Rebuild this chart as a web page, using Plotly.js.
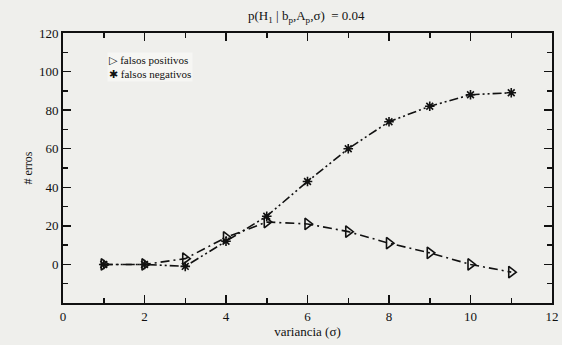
<!DOCTYPE html>
<html><head><meta charset="utf-8">
<script src="https://cdn.plot.ly/plotly-3.0.1.min.js"></script>
<style>html,body{margin:0;padding:0;background:#efefec;}</style>
</head><body>
<div id="chart" style="width:562px;height:345px;"></div>
<script>
const varianciaX = [1, 2, 3, 4, 5, 6, 7, 8, 9, 10, 11];
const falsosPositivos = [0, 0, 3, 14, 22, 21, 17, 11, 6, 0, -4];
const falsosNegativos = [0, 0, -1, 12, 25, 43, 60, 74, 82, 88, 89];
const nomePositivos = 'falsos positivos';
const nomeNegativos = 'falsos negativos';
const xTicks = [0, 2, 4, 6, 8, 10, 12];
const yTicks = [0, 20, 40, 60, 80, 100, 120];

const fam = '"Liberation Serif", "DejaVu Serif", serif';
const font = {family: fam, color: '#111', size: 13};

const traces = [
  {x: varianciaX, y: falsosPositivos, mode: 'lines+markers', name: nomePositivos,
   line: {color: '#111', width: 1.6, dash: '9px,4px,2px,4px'},
   marker: {symbol: 'triangle-right-open', size: 10, color: '#111', line: {width: 1.6}}},
  {x: varianciaX, y: falsosNegativos, mode: 'lines+markers', name: nomeNegativos,
   line: {color: '#111', width: 1.6, dash: '9px,3px,2px,3px,2px,3px'},
   marker: {symbol: 'asterisk-open', size: 8, color: '#111', line: {width: 1.6, color: '#111'}}}
];

const axisCommon = {
  showgrid: false, zeroline: false, showline: true, linecolor: '#111', linewidth: 2,
  mirror: 'allticks', ticks: 'inside', ticklen: 8, tickwidth: 1.5, tickcolor: '#111',
  tickfont: font
};

const layout = {
  width: 562, height: 345,
  paper_bgcolor: '#efefec', plot_bgcolor: '#efefec',
  margin: {l: 63, r: 10, t: 33, b: 42},
  font: font,
  showlegend: false,
  title: {text: 'p(H<sub>1</sub> | b<sub>p</sub>,A<sub>p</sub>,σ)  = 0.04', x: 0.545, xanchor: 'center', y: 0.955, yanchor: 'middle', font: {family: fam, size: 13, color: '#111'}},
  xaxis: Object.assign({}, axisCommon, {range: [0, 12], tickvals: xTicks, ticktext: xTicks.map(String),
    minor: {dtick: 1, tick0: 0, ticks: 'inside', ticklen: 5, tickwidth: 1.5, tickcolor: '#111', showgrid: false},
    title: {text: 'variancia (σ)', font: {family: fam, size: 13, color: '#111'}, standoff: 3}}),
  yaxis: Object.assign({}, axisCommon, {range: [-20, 120], tickvals: yTicks, ticktext: yTicks.map(String),
    minor: {dtick: 10, tick0: 0, ticks: 'inside', ticklen: 5, tickwidth: 1.5, tickcolor: '#111', showgrid: false},
    title: {text: '# erros', font: {family: fam, size: 12, color: '#111'}, standoff: 4}}),
  annotations: [{
    xref: 'paper', yref: 'paper', x: 0.09, y: 0.93, xanchor: 'left', yanchor: 'top', align: 'left',
    text: '▷ ' + nomePositivos + '<br>✱ ' + nomeNegativos, showarrow: false,
    bgcolor: 'rgba(250,250,248,0.6)',
    font: {family: fam, size: 11, color: '#111'}
  }]
};

Plotly.newPlot('chart', traces, layout, {displayModeBar: false, staticPlot: true});
</script>
</body></html>
